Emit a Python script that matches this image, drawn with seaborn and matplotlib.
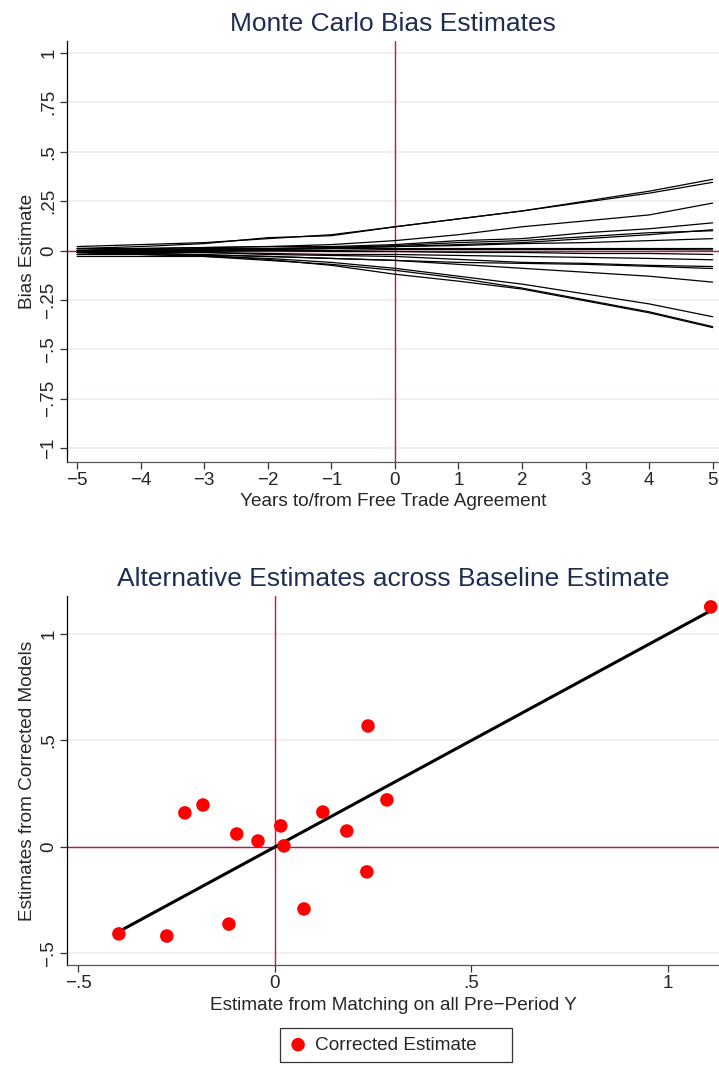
import numpy as np
import pandas as pd
import matplotlib.pyplot as plt
import seaborn as sns

# years relative to the agreement
years = [-5, -4, -3, -2, -1, 0, 1, 2, 3, 4, 5]

# bias paths, one list per simulation
bias_paths = [
    [0.02, 0.03, 0.04, 0.06, 0.08, 0.12, 0.16, 0.20, 0.25, 0.30, 0.36],
    [0.01, 0.02, 0.035, 0.065, 0.075, 0.12, 0.16, 0.20, 0.245, 0.29, 0.345],
    [0.0, 0.01, 0.015, 0.02, 0.03, 0.05, 0.08, 0.12, 0.15, 0.18, 0.24],
    [0.01, 0.01, 0.015, 0.02, 0.02, 0.03, 0.05, 0.06, 0.09, 0.11, 0.14],
    [-0.01, 0.0, 0.005, 0.01, 0.015, 0.02, 0.03, 0.04, 0.06, 0.08, 0.105],
    [0.0, 0.005, 0.01, 0.01, 0.015, 0.025, 0.04, 0.05, 0.07, 0.09, 0.10],
    [-0.01, -0.005, 0.0, 0.005, 0.01, 0.02, 0.025, 0.035, 0.04, 0.05, 0.06],
    [0.0, 0.0, 0.005, 0.005, 0.01, 0.01, 0.01, 0.01, 0.01, 0.01, 0.01],
    [-0.02, -0.01, -0.005, 0.0, 0.0, 0.005, 0.005, 0.005, 0.005, 0.005, 0.003],
    [0.01, 0.005, 0.0, 0.0, -0.005, -0.005, -0.01, -0.01, -0.015, -0.015, -0.02],
    [-0.01, -0.01, -0.01, -0.015, -0.02, -0.02, -0.025, -0.03, -0.035, -0.04, -0.047],
    [0.0, -0.005, -0.01, -0.02, -0.025, -0.03, -0.045, -0.06, -0.065, -0.075, -0.081],
    [-0.02, -0.02, -0.025, -0.03, -0.04, -0.05, -0.06, -0.065, -0.07, -0.08, -0.091],
    [-0.01, -0.015, -0.02, -0.03, -0.04, -0.05, -0.07, -0.09, -0.11, -0.13, -0.16],
    [-0.03, -0.03, -0.03, -0.04, -0.06, -0.09, -0.13, -0.17, -0.22, -0.27, -0.335],
    [-0.01, -0.02, -0.03, -0.05, -0.07, -0.10, -0.14, -0.19, -0.25, -0.31, -0.385],
    [0.0, -0.01, -0.025, -0.045, -0.075, -0.12, -0.155, -0.195, -0.255, -0.315, -0.39],
]

# scatter: baseline (matching) estimate vs corrected estimate
baseline = [-0.397, -0.275, -0.229, -0.183, -0.097, -0.117, -0.043, 0.015,
            0.023, 0.074, 0.122, 0.183, 0.237, 0.234, 0.285, 1.109]
corrected = [-0.408, -0.418, 0.160, 0.197, 0.061, -0.362, 0.028, 0.099,
             0.005, -0.291, 0.164, 0.075, 0.568, -0.117, 0.221, 1.127]

top_yticks = [1, 0.75, 0.5, 0.25, 0, -0.25, -0.5, -0.75, -1]
top_yticklabels = ["1", ".75", ".5", ".25", "0", "\u2212.25", "\u2212.5", "\u2212.75", "\u22121"]
top_xticklabels = ["\u22125", "\u22124", "\u22123", "\u22122", "\u22121", "0", "1", "2", "3", "4", "5"]
bot_ticks = [-0.5, 0, 0.5, 1]
bot_ticklabels = ["\u2212.5", "0", ".5", "1"]

sns.set_theme(style="white")
plt.rcParams['font.family'] = ['Liberation Sans', 'DejaVu Sans']

W, H = 719, 1068
fig = plt.figure(figsize=(W / 100, H / 100), dpi=100)
title_col = '#1f2d55'
grid_col = '#e8eff1'
ref_col = '#c8143c'

def px_axes(l, t, r, b):
    return fig.add_axes([l / W, 1 - b / H, (r - l) / W, (b - t) / H])

def stata_style(ax):
    for s in ['top', 'right']:
        ax.spines[s].set_visible(False)
    ax.spines['left'].set_color('black')
    ax.spines['bottom'].set_color('#555555')
    ax.spines['left'].set_linewidth(0.9)
    ax.spines['bottom'].set_linewidth(0.9)
    ax.tick_params(direction='out', length=5, width=0.9, color='#333333',
                   labelsize=13.5, pad=2, bottom=True, left=True)
    ax.yaxis.grid(True, color=grid_col, lw=1.1)
    ax.set_axisbelow(True)
    for lab in ax.get_yticklabels():
        lab.set_rotation(90)
        lab.set_va('center')

# ---- top panel
df = pd.DataFrame([(i, y, v) for i, path in enumerate(bias_paths)
                   for y, v in zip(years, path)], columns=['sim', 'year', 'bias'])
ax1 = px_axes(67, 41, 719, 462)
ax1.axhline(0, color=ref_col, lw=1.0, zorder=1)
ax1.axvline(0, color=ref_col, lw=1.0, zorder=1)
sns.lineplot(data=df, x='year', y='bias', units='sim', estimator=None,
             color='black', lw=0.9, ax=ax1, zorder=2)
ax1.set_xlim(-5.16, 5.1)
ax1.set_ylim(-1.07, 1.06)
ax1.set_xticks(years)
ax1.set_xticklabels(top_xticklabels)
ax1.set_yticks(top_yticks)
ax1.set_yticklabels(top_yticklabels)
ax1.set_xlabel('Years to/from Free Trade Agreement', fontsize=13.7, labelpad=3)
ax1.set_ylabel('Bias Estimate', fontsize=13.7, labelpad=3)
ax1.set_title('Monte Carlo Bias Estimates', fontsize=19, color=title_col, pad=7)
stata_style(ax1)

# ---- bottom panel
sc = pd.DataFrame({'baseline': baseline, 'corrected': corrected})
ax2 = px_axes(67, 596, 719, 965)
ax2.axhline(0, color=ref_col, lw=1.0, zorder=1)
ax2.axvline(0, color=ref_col, lw=1.0, zorder=1)
line_df = sc.sort_values('baseline')
sns.lineplot(x=line_df['baseline'], y=line_df['baseline'], color='black',
             lw=2.2, ax=ax2, zorder=2, sort=False)
sns.scatterplot(data=sc, x='baseline', y='corrected', color='#ff0000', s=95,
                edgecolor='none', ax=ax2, zorder=3, label='Corrected Estimate')
ax2.set_xlim(-0.529, 1.13)
ax2.set_ylim(-0.554, 1.178)
ax2.set_xticks(bot_ticks)
ax2.set_xticklabels(bot_ticklabels)
ax2.set_yticks(bot_ticks)
ax2.set_yticklabels(bot_ticklabels)
ax2.set_xlabel('Estimate from Matching on all Pre\u2212Period Y', fontsize=13.7, labelpad=4)
ax2.set_ylabel('Estimates from Corrected Models', fontsize=13.7, labelpad=3)
ax2.set_title('Alternative Estimates across Baseline Estimate', fontsize=19,
              color=title_col, pad=7)
stata_style(ax2)

handles, labels = ax2.get_legend_handles_labels()
ax2.legend_.remove()
leg = fig.legend(handles, labels, loc='center', mode='expand',
                 bbox_to_anchor=(280 / W, 1 - 1062 / H, 232 / W, 34 / H),
                 frameon=True, fancybox=False, fontsize=13.7, handletextpad=0.4,
                 borderpad=0.45, borderaxespad=0, handlelength=1.0,
                 markerscale=1.0)
leg.get_frame().set_edgecolor('black')
leg.get_frame().set_linewidth(0.9)

fig.savefig('out.png', dpi=100, facecolor='white')
